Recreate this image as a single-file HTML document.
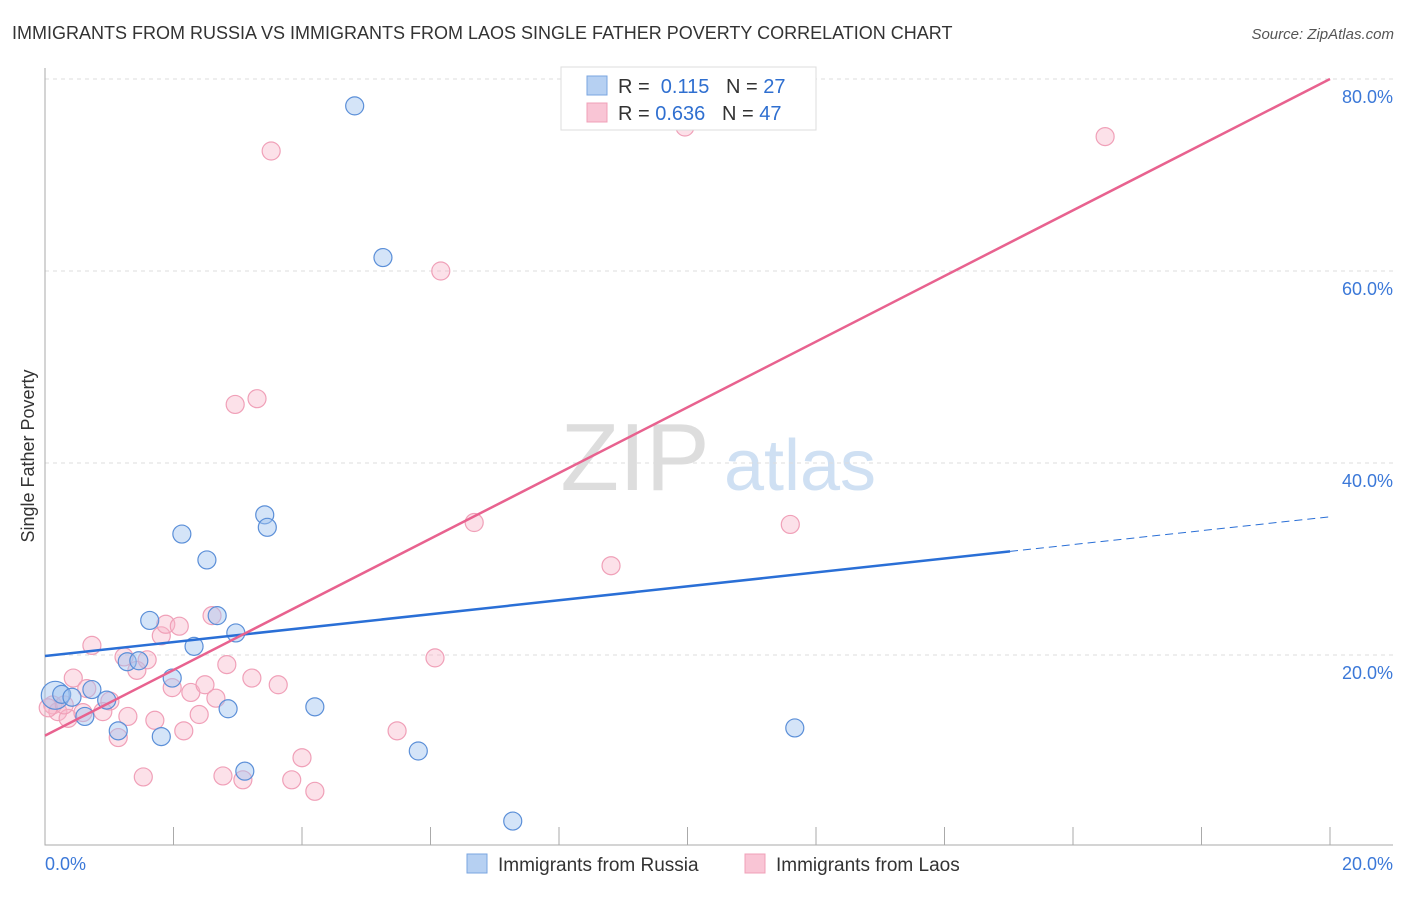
<!DOCTYPE html>
<html><head><meta charset="utf-8"><style>
body{margin:0;background:#fff;font-family:"Liberation Sans",sans-serif}
svg text{font-family:"Liberation Sans",sans-serif}
</style></head><body>
<svg id="c" width="1406" height="892" viewBox="0 0 1406 892">
<text x="12" y="39" font-size="18" fill="#333">IMMIGRANTS FROM RUSSIA VS IMMIGRANTS FROM LAOS SINGLE FATHER POVERTY CORRELATION CHART</text>
<text x="1394" y="39" font-size="15" fill="#555" text-anchor="end" font-style="italic">Source: ZipAtlas.com</text>
<text x="34" y="456" font-size="18" fill="#333" text-anchor="middle" transform="rotate(-90 34 456)">Single Father Poverty</text>
<g><text x="635" y="490" font-size="96" fill="#ddd" text-anchor="middle" font-family="Liberation Serif">ZIP</text><text x="800" y="490" font-size="72" fill="#cfe0f3" text-anchor="middle">atlas</text></g>
<g id="grid"></g><g id="axes"></g><g id="pts"></g><g id="trend"></g>
<g>
<rect x="561" y="67" width="255" height="63" fill="#fff" stroke="#ddd"/>
<rect x="587" y="76" width="20" height="19" fill="#b6d0f2" stroke="#7aa6e0"/>
<rect x="587" y="103" width="20" height="19" fill="#f9c5d5" stroke="#f0a0b8"/>
<text x="618" y="93" font-size="20" fill="#333">R = <tspan fill="#2f6fd0">&#160;0.115</tspan>&#160;&#160;&#160;N = <tspan fill="#2f6fd0">27</tspan></text>
<text x="618" y="120" font-size="20" fill="#333">R = <tspan fill="#2f6fd0">0.636</tspan>&#160;&#160;&#160;N = <tspan fill="#2f6fd0">47</tspan></text>
</g>
<g>
<rect x="467" y="854" width="20" height="19" fill="#b6d0f2" stroke="#7aa6e0"/>
<text x="498" y="871" font-size="19" fill="#333">Immigrants from Russia</text>
<rect x="745" y="854" width="20" height="19" fill="#f9c5d5" stroke="#f0a0b8"/>
<text x="776" y="871" font-size="19" fill="#333">Immigrants from Laos</text>
</g>
</svg>
<script>
const russiaX=[4.82,5.26,2.13,3.42,3.46,2.52,1.63,2.68,2.97,2.32,1.28,1.46,1.98,0.16,0.26,0.42,0.73,0.96,0.62,1.14,1.81,2.85,4.20,5.81,3.11,7.28,11.67];
const russiaY=[77.2,61.4,32.6,34.6,33.3,29.9,23.6,24.1,22.3,20.9,19.3,19.4,17.6,15.8,15.9,15.6,16.4,15.3,13.6,12.1,11.5,14.4,14.6,10.0,7.9,2.7,12.4];
const laosX=[3.52,9.96,16.5,6.16,2.96,3.30,6.68,11.6,8.81,0.73,1.81,1.88,2.09,2.60,1.23,1.43,1.59,0.44,0.65,0.12,0.20,0.36,0.59,1.01,0.90,1.98,2.27,2.49,2.83,3.22,3.63,2.66,2.40,1.29,1.71,2.16,1.14,6.07,5.48,4.00,1.53,2.77,3.08,3.84,4.20,0.05,0.30];
const laosY=[72.5,75.0,74.0,60.0,46.1,46.7,33.8,33.6,29.3,21.0,22.0,23.2,23.0,24.1,19.8,18.4,19.5,17.6,16.5,14.8,14.1,13.4,14.0,15.2,14.1,16.6,16.1,16.9,19.0,17.6,16.9,15.5,13.8,13.6,13.2,12.1,11.4,19.7,12.1,9.3,7.3,7.4,7.0,7.0,5.8,14.5,14.8];
const yTicks=[20,40,60,80];
const xTickLabels=["0.0%","20.0%"];
const russiaTrend=[19.9,34.4];
const russiaSolidEnd=15.02;
const laosTrend=[11.6,80.0];
const NS="http://www.w3.org/2000/svg";
const sx=v=>45+v*64.25, sy=v=>847-v*9.6;
function mk(tag,attrs,parent){const e=document.createElementNS(NS,tag);for(const k in attrs)e.setAttribute(k,attrs[k]);document.getElementById(parent).appendChild(e);return e;}
yTicks.forEach(t=>{
 const g=mk('line',{x1:45,x2:1393,y1:sy(t),y2:sy(t),stroke:'#ddd','stroke-dasharray':'4 4'},'grid');
 
 
 const l=mk('text',{x:1393,y:sy(t)+24,'font-size':18,fill:'#3b78d8','text-anchor':'end'},'grid');
 l.textContent=t.toFixed(1)+'%';
 
 
});
const ax=mk('path',{d:'M45 68V845H1393',stroke:'#aaa',fill:'none'},'axes');


for(let i=0;i<=10;i++){
 const t=mk('line',{x1:sx(i*2),x2:sx(i*2),y1:827,y2:845,stroke:'#aaa'},'axes');
 
 
}
[[0,'start',45],[20,'end',1393]].forEach((p,i)=>{
 const l=mk('text',{x:p[2],y:870,'font-size':18,fill:'#3b78d8','text-anchor':p[1]},'axes');
 l.textContent=xTickLabels[i];
 
 
});
laosX.forEach((x,i)=>{
 const c=mk('circle',{cx:sx(x),cy:sy(laosY[i]),r:9,fill:'rgba(248,180,200,0.4)',stroke:'#f0a0b8','stroke-width':1.2},'pts');
 
 
});
russiaX.forEach((x,i)=>{
 const c=mk('circle',{cx:sx(x),cy:sy(russiaY[i]),r:i==13?14:9,fill:'rgba(160,196,240,0.45)',stroke:'#5b8fd8','stroke-width':1.2},'pts');
 
 
});
const ry=x=>russiaTrend[0]+(russiaTrend[1]-russiaTrend[0])*x/20;
const t1=mk('line',{x1:sx(0),y1:sy(ry(0)),x2:sx(russiaSolidEnd),y2:sy(ry(russiaSolidEnd)),stroke:'#2a6fd6','stroke-width':2.5},'trend');


const t2=mk('line',{x1:sx(russiaSolidEnd),y1:sy(ry(russiaSolidEnd)),x2:sx(20),y2:sy(ry(20)),stroke:'#2a6fd6','stroke-width':1,'stroke-dasharray':'8 5'},'trend');


const t3=mk('line',{x1:sx(0),y1:sy(laosTrend[0]),x2:sx(20),y2:sy(laosTrend[1]),stroke:'#e8628f','stroke-width':2.5},'trend');


</script>
</body></html>
